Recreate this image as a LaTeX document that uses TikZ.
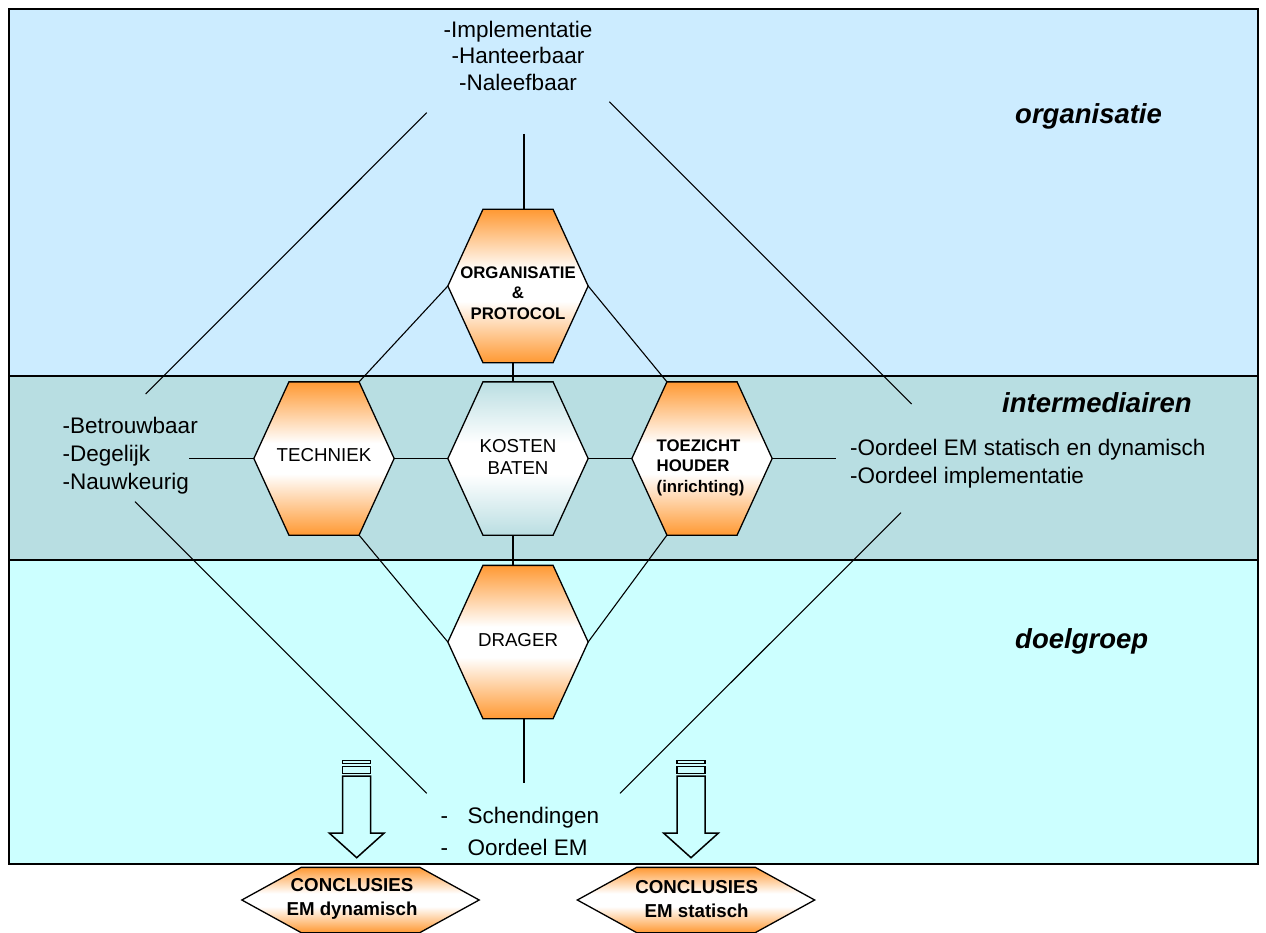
\documentclass[tikz,border=0pt]{standalone}
\usepackage{fontspec}
\setmainfont{Liberation Sans}

% Hexagon with flat top and bottom, pointed left and right; the flat
% edges span the middle half of the node's width.
\makeatletter
\pgfdeclareshape{hexcell}{%
  \inheritsavedanchors[from=rectangle]%
  \inheritanchorborder[from=rectangle]%
  \inheritanchor[from=rectangle]{center}%
  \inheritanchor[from=rectangle]{north}%
  \inheritanchor[from=rectangle]{south}%
  \inheritanchor[from=rectangle]{east}%
  \inheritanchor[from=rectangle]{west}%
  \anchor{top left}{\southwest\pgf@xa=\pgf@x\northeast\pgf@xb=\pgf@x
    \pgf@x=0.75\pgf@xa\advance\pgf@x by 0.25\pgf@xb}%
  \anchor{top right}{\southwest\pgf@xa=\pgf@x\northeast\pgf@xb=\pgf@x
    \pgf@x=0.25\pgf@xa\advance\pgf@x by 0.75\pgf@xb}%
  \anchor{bottom left}{\northeast\pgf@xb=\pgf@x\southwest\pgf@xa=\pgf@x
    \pgf@x=0.75\pgf@xa\advance\pgf@x by 0.25\pgf@xb}%
  \anchor{bottom right}{\northeast\pgf@xb=\pgf@x\southwest\pgf@xa=\pgf@x
    \pgf@x=0.25\pgf@xa\advance\pgf@x by 0.75\pgf@xb}%
  \backgroundpath{%
    \southwest\pgf@xa=\pgf@x\pgf@ya=\pgf@y
    \northeast\pgf@xb=\pgf@x\pgf@yb=\pgf@y
    \pgf@xc=0.75\pgf@xa\advance\pgf@xc by 0.25\pgf@xb
    \edef\hexL{\the\pgf@xc}%
    \pgf@xc=0.25\pgf@xa\advance\pgf@xc by 0.75\pgf@xb
    \edef\hexR{\the\pgf@xc}%
    \pgf@yc=0.5\pgf@ya\advance\pgf@yc by 0.5\pgf@yb
    \edef\hexM{\the\pgf@yc}%
    \edef\hexW{\the\pgf@xa}\edef\hexE{\the\pgf@xb}%
    \edef\hexS{\the\pgf@ya}\edef\hexN{\the\pgf@yb}%
    \pgfpathmoveto{\pgfqpoint{\hexL}{\hexN}}%
    \pgfpathlineto{\pgfqpoint{\hexR}{\hexN}}%
    \pgfpathlineto{\pgfqpoint{\hexE}{\hexM}}%
    \pgfpathlineto{\pgfqpoint{\hexR}{\hexS}}%
    \pgfpathlineto{\pgfqpoint{\hexL}{\hexS}}%
    \pgfpathlineto{\pgfqpoint{\hexW}{\hexM}}%
    \pgfpathclose
  }%
}
\makeatother

\definecolor{bandtop}{RGB}{204,236,255}
\definecolor{bandmid}{RGB}{184,222,226}
\definecolor{bandlow}{RGB}{204,255,255}
\definecolor{hexorng}{RGB}{255,153,51}
\definecolor{hexteal}{RGB}{186,222,226}

\pgfdeclareverticalshading{orangeglow}{100bp}{color(0bp)=(hexorng); color(25bp)=(hexorng); color(45bp)=(white); color(55bp)=(white); color(75bp)=(hexorng); color(100bp)=(hexorng)}
\pgfdeclareverticalshading{tealglow}{100bp}{color(0bp)=(hexteal); color(25bp)=(hexteal); color(45bp)=(white); color(55bp)=(white); color(75bp)=(hexteal); color(100bp)=(hexteal)}

\tikzset{
  hexbase/.style={shape=hexcell, draw=black, line width=1.3pt,
    minimum width=139pt, minimum height=152pt, inner sep=0pt},
  hexo/.style={hexbase, shade, shading=orangeglow},
  hext/.style={hexbase, shade, shading=tealglow},
  concl/.style={shape=hexcell, draw=black, line width=1.3pt, shade, shading=orangeglow,
    minimum width=236pt, minimum height=64pt, inner sep=0pt},
  link/.style={line width=1.1pt},
  blockline/.style={line width=1.5pt, line join=miter},
  listtxt/.style={font=\fontsize{22.5}{27}\selectfont, inner sep=0pt},
  bandlabel/.style={font=\fontsize{27.5}{33}\selectfont\bfseries\itshape, inner sep=0pt, anchor=base west},
  hexreg/.style={font=\fontsize{18.7}{21.7}\selectfont, inner sep=0pt, align=center},
  hexbold/.style={font=\fontsize{16.8}{20.5}\selectfont\bfseries, inner sep=0pt},
  conctxt/.style={font=\fontsize{18.7}{24}\selectfont\bfseries, inner sep=0pt, align=center},
  stripearrow/.pic={
    \draw[blockline] (-14,0.7) rectangle (14,3.3);
    \draw[blockline] (-14,6.7) rectangle (14,13.3);
    \draw[blockline] (-14,16) -- (-14,73) -- (-27.5,73) -- (0,97.7)
      -- (27.5,73) -- (14,73) -- (14,16) -- cycle;
  }
}

\begin{document}
\begin{tikzpicture}[x=1pt,y=-1pt]
\useasboundingbox (0,0) rectangle (1266,933);

% the three horizontal bands
\fill[bandtop] (9,9) rectangle (1258,376);
\fill[bandmid] (9,376) rectangle (1258,560);
\fill[bandlow] (9,560) rectangle (1258,864);
\draw[line width=1.5pt] (9,376) -- (1258,376);
\draw[line width=1.5pt] (9,560) -- (1258,560);
\draw[line width=1.8pt] (9,9) rectangle (1258,864);

% band titles
\node[bandlabel] (lblorg) at (1015,123.5) {organisatie};
\node[bandlabel] (lblint) at (1002,412.7) {intermediairen};
\node[bandlabel] (lbldoel) at (1015,648.5) {doelgroep};

% free ends of the connectors
\coordinate (topA) at (426.7,112.7);
\coordinate (leftA) at (145.7,394);
\coordinate (topB) at (609.3,101.7);
\coordinate (rightA) at (911.7,404);
\coordinate (leftB) at (135,501.7);
\coordinate (botA) at (426.7,793.3);
\coordinate (rightB) at (901,512.7);
\coordinate (botB) at (620,793.3);
\coordinate (topC) at (524,134);
\coordinate (botC) at (524,783);
\coordinate (leftC) at (189,458.5);
\coordinate (rightC) at (836,458.5);

% hexagons
\node[hexo] (org) at (518,286) {};
\node[hexo] (tech) at (324,458.5) {};
\node[hext] (kost) at (518,458.5) {};
\node[hexo] (toez) at (702,458.5) {};
\node[hexo] (drag) at (518,642) {};

% connectors
\draw[link] (topA) -- (leftA);
\draw[link] (topB) -- (rightA);
\draw[link] (leftB) -- (botA);
\draw[link] (rightB) -- (botB);
\draw[link] (topC) -- (topC |- org.north);
\draw[link] ([xshift=-5pt]org.south) -- ([xshift=-5pt]kost.north);
\draw[link] ([xshift=-5pt]kost.south) -- ([xshift=-5pt]drag.north);
\draw[link] (botC |- drag.south) -- (botC);
\draw[link] (leftC) -- (tech.west);
\draw[link] (tech.east) -- (kost.west);
\draw[link] (kost.east) -- (toez.west);
\draw[link] (toez.east) -- (rightC);
\draw[link] (org.west) -- (tech.top right);
\draw[link] (org.east) -- (toez.top left);
\draw[link] (tech.bottom right) -- (drag.west);
\draw[link] (toez.bottom left) -- (drag.east);

% hexagon texts
\node[hexbold, align=center] (orgtxt) at (518,293) {ORGANISATIE\\\&\\PROTOCOL};
\node[hexreg] (techtxt) at (324,455.5) {TECHNIEK};
\node[hexreg] (kosttxt) at (518,457) {KOSTEN\\BATEN};
\node[hexbold, align=left, anchor=west] (toeztxt) at (656.5,467.5) {TOEZICHT\\HOUDER\\(inrichting)};
\node[hexreg] (dragtxt) at (518,640.5) {DRAGER};

% criteria lists
\node[listtxt, anchor=base] (imp) at (518,37.5) {-Implementatie};
\node[listtxt, anchor=base] (han) at (518,64) {-Hanteerbaar};
\node[listtxt, anchor=base] (nal) at (518,90.5) {-Naleefbaar};

\node[listtxt, anchor=base west] (bet) at (62.5,433.3) {-Betrouwbaar};
\node[listtxt, anchor=base west] (deg) at (62.5,461.5) {-Degelijk};
\node[listtxt, anchor=base west] (nauw) at (62.5,489.5) {-Nauwkeurig};

\node[listtxt, anchor=base west] (oord1) at (850,455.7) {-Oordeel EM statisch en dynamisch};
\node[listtxt, anchor=base west] (oord2) at (850,483) {-Oordeel implementatie};

\node[listtxt, anchor=base west] (dash1) at (440.5,823.3) {-};
\node[listtxt, anchor=base west] (schend) at (467.5,823.3) {Schendingen};
\node[listtxt, anchor=base west] (dash2) at (440.5,855) {-};
\node[listtxt, anchor=base west] (oordem) at (467.5,855) {Oordeel EM};

% striped block arrows towards the conclusions
\pic (arrdyn) at (356.7,760) {stripearrow};
\pic (arrstat) at (691,760) {stripearrow};

% conclusions
\node[concl] (concdyn) at (360.5,900) {};
\node[conctxt] (concdyntxt) at (352,899) {CONCLUSIES\\EM dynamisch};
\node[concl] (concstat) at (696,900) {};
\node[conctxt] (concstattxt) at (696.7,899) {CONCLUSIES\\EM statisch};
\end{tikzpicture}
\end{document}
